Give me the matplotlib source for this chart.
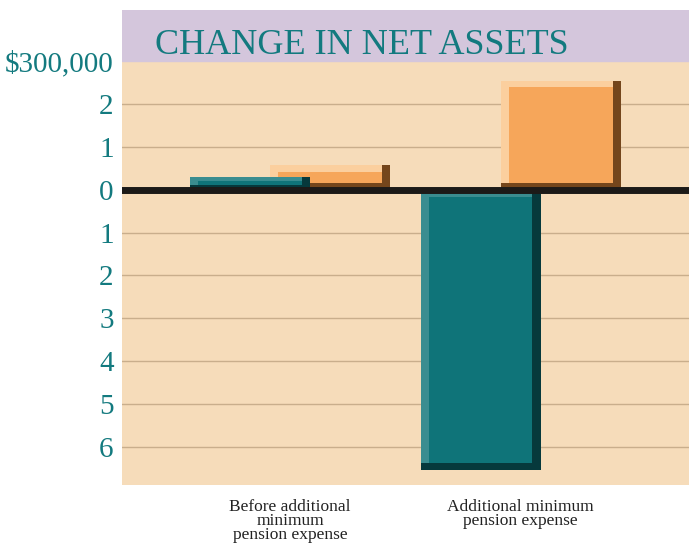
import matplotlib
matplotlib.use("Agg")
import matplotlib.pyplot as plt
import numpy as np

# data (dollars)
categories = ["Before additional\nminimum\npension expense",
              "Additional minimum\npension expense"]
teal_vals = [30000, -655000]
orange_vals = [58000, 255000]
tick_vals = [300000, 200000, 100000, 0, -100000, -200000, -300000,
             -400000, -500000, -600000]
tick_labels = ["$300,000", "2", "1", "0", "1", "2", "3", "4", "5", "6"]

TEAL = "#0f7479"
TEAL_DARK = "#06393c"
TEAL_LIGHT = "#3a8d90"
ORANGE = "#f6a65a"
ORANGE_DARK = "#74461c"
ORANGE_LIGHT = "#fbcf9e"
PEACH = "#f6dcba"
LAVENDER = "#d4c6dc"
GRID = "#c9ae8c"
TEXT_TEAL = "#137a7f"

plt.rcParams["font.family"] = ["Liberation Serif", "DejaVu Serif"]


def bevel_bar(ax, x, v, w, face, dark, light, bx=0.035, by=16000):
    lo, hi = min(0, v), max(0, v)
    h = hi - lo
    by = min(by, h / 3)
    ax.bar(x, h, w, bottom=lo, color=dark, zorder=3)
    ax.bar(x - bx / 2, h - by, w - bx, bottom=lo + by, color=light, zorder=3)
    ax.bar(x, h - 2 * by, w - 2 * bx, bottom=lo + by, color=face, zorder=3)


fig = plt.figure(figsize=(6.89, 5.52), dpi=100)
ax = fig.add_axes([0.177, 0.121, 0.823, 0.861])
ax.set_xlim(-0.73, 1.73)
ax.set_ylim(-690000, 420000)
ax.set_facecolor(PEACH)
ax.axhspan(300000, 420000, color=LAVENDER, zorder=0)

for t in tick_vals[1:]:
    if t != 0:
        ax.axhline(t, color=GRID, lw=1, zorder=1)

x = np.arange(len(categories))
off = 0.174
w = 0.52
for i in range(len(categories)):
    bevel_bar(ax, x[i] + off, orange_vals[i], w, ORANGE, ORANGE_DARK, ORANGE_LIGHT)
    bevel_bar(ax, x[i] - off, teal_vals[i], w, TEAL, TEAL_DARK, TEAL_LIGHT)

ax.axhline(0, color="#1c1a18", lw=5, zorder=4)

ax.set_yticks(tick_vals)
ax.set_yticklabels(tick_labels, fontsize=21, color=TEXT_TEAL)
ax.tick_params(axis="y", length=0, pad=6)
ax.set_xticks(x)
ax.set_xticklabels(categories, fontsize=12.5, color="#222222",
                   linespacing=0.85)
ax.tick_params(axis="x", length=0, pad=10)
for s in ax.spines.values():
    s.set_visible(False)

ax.text(0.058, 0.925, "CHANGE IN NET ASSETS", transform=ax.transAxes,
        fontsize=26, color=TEXT_TEAL, va="center", ha="left")

fig.savefig("out.png", dpi=100)
